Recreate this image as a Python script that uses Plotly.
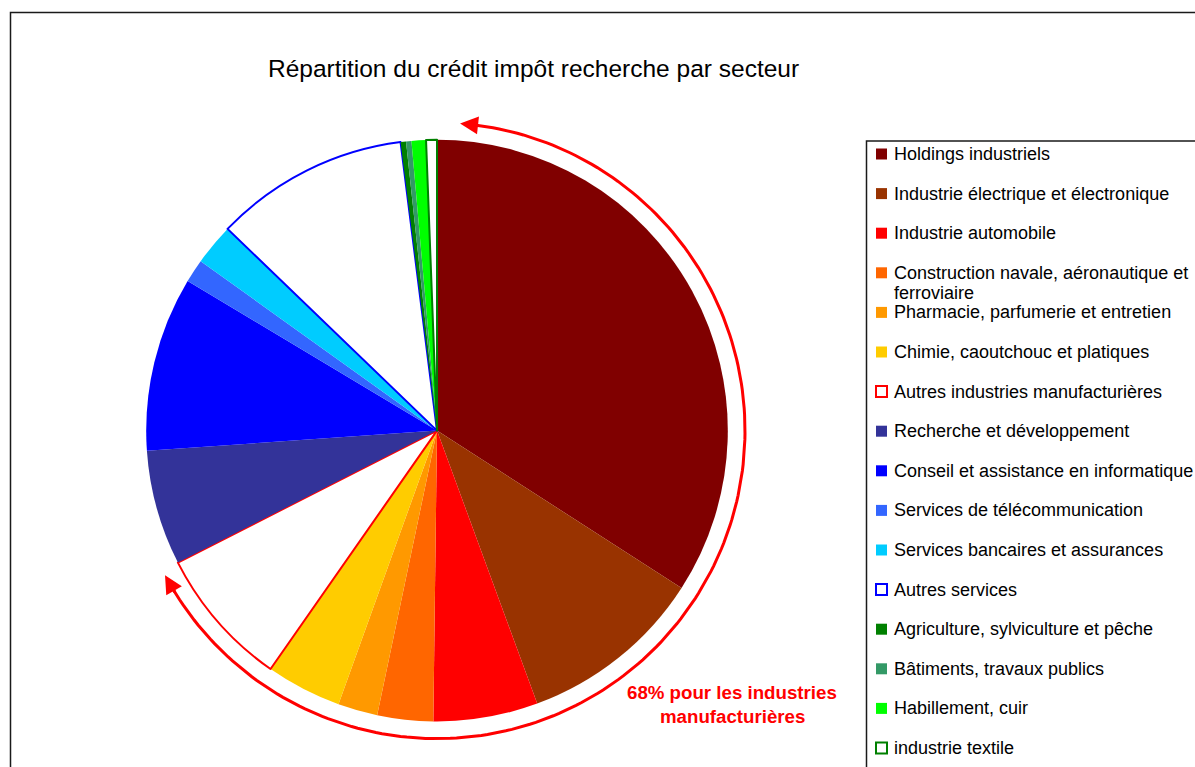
import math
import textwrap
import plotly.graph_objects as go

# --- data (share of the tax credit, %) ---
sectors = [
    "Holdings industriels",
    "Industrie électrique et électronique",
    "Industrie automobile",
    "Construction navale, aéronautique et ferroviaire",
    "Pharmacie, parfumerie et entretien",
    "Chimie, caoutchouc et platiques",
    "Autres industries manufacturières",
    "Recherche et développement",
    "Conseil et assistance en informatique",
    "Services de télécommunication",
    "Services bancaires et assurances",
    "Autres services",
    "Agriculture, sylviculture et pêche",
    "Bâtiments, travaux publics",
    "Habillement, cuir",
    "industrie textile",
]
shares = [34.1, 10.3, 5.8, 3.1, 2.2, 4.2, 7.8, 6.4, 9.7, 1.3, 2.3, 10.8, 0.3, 0.3, 0.8, 0.6]
fill_colors = ["#800000", "#993300", "#FF0000", "#FF6600", "#FF9900", "#FFCC00", "#FFFFFF",
               "#333399", "#0000FF", "#3366FF", "#00CCFF", "#FFFFFF",
               "#008000", "#339966", "#00FF00", "#FFFFFF"]
edge_colors = ["#800000", "#993300", "#FF0000", "#FF6600", "#FF9900", "#FFCC00", "#FF0000",
               "#333399", "#0000FF", "#3366FF", "#00CCFF", "#0000FF",
               "#008000", "#339966", "#00FF00", "#008000"]
title_text = "Répartition du crédit impôt recherche par secteur"
note_lines = ["68% pour les industries", "manufacturières"]

W, H = 1195, 767
FONT = "Arial, Liberation Sans, sans-serif"

# pie geometry (window pixels)
cx, cy, r = 437, 430.6, 290.8

fig = go.Figure()

fig.add_trace(go.Pie(
    labels=sectors,
    values=shares,
    sort=False,
    direction="clockwise",
    rotation=0,
    textinfo="none",
    showlegend=False,
    marker=dict(
        colors=fill_colors,
        line=dict(color=edge_colors,
                  width=[2 if c == "#FFFFFF" else 0 for c in fill_colors]),
    ),
    domain=dict(x=[(cx - r) / W, (cx + r) / W],
                y=[1 - (cy + r) / H, 1 - (cy - r) / H]),
))

# --- curved arrow around the manufacturing slices ---
r_arc = 308
def arc_pt(deg, rad=r_arc):
    a = math.radians(deg)
    return cx + rad * math.sin(a), cy - rad * math.cos(a)

arc_deg = [7 + i * (239 - 7) / 200 for i in range(201)]
pts = [arc_pt(d) for d in arc_deg]
fig.add_trace(go.Scatter(
    x=[p[0] for p in pts], y=[p[1] for p in pts],
    mode="lines", line=dict(color="#FF0000", width=3),
    hoverinfo="skip", showlegend=False,
))

annotations = []
for tip, back in [(4.3, 8.0), (242.0, 238.0)]:
    tx, ty = arc_pt(tip)
    bx, by = arc_pt(back)
    annotations.append(dict(
        x=tx, y=ty, ax=bx, ay=by, xref="x", yref="y", axref="x", ayref="y",
        text="", showarrow=True, arrowhead=2, arrowsize=1.2, arrowwidth=3,
        arrowcolor="#FF0000",
    ))

# --- title and note ---
annotations.append(dict(x=533, y=68, xref="x", yref="y", text=title_text,
                        showarrow=False, font=dict(family=FONT, size=24.5, color="#000000")))
for i, line in enumerate(note_lines):
    annotations.append(dict(x=732, y=692.5 + 24 * i, xref="x", yref="y",
                            text="<b>" + line + "</b>", showarrow=False,
                            font=dict(family=FONT, size=18.7, color="#FF0000")))

# --- frame and legend box ---
shapes = [
    dict(type="rect", xref="x", yref="y", x0=10.5, y0=12.5, x1=1300, y1=900,
         line=dict(color="#1a1a1a", width=1.5)),
    dict(type="rect", xref="x", yref="y", x0=866.5, y0=141, x1=1300, y1=900,
         line=dict(color="#1a1a1a", width=1.5)),
]

leg_y0, leg_step = 154, 39.6
for i, (name, fc, ec) in enumerate(zip(sectors, fill_colors, edge_colors)):
    y = leg_y0 + i * leg_step
    white = fc == "#FFFFFF"
    shapes.append(dict(type="rect", xref="x", yref="y",
                       x0=876, x1=887, y0=y - 5.5, y1=y + 5.5,
                       fillcolor=fc,
                       line=dict(color=ec, width=2 if white else 0)))
    for k, part in enumerate(textwrap.wrap(name, 37)):
        annotations.append(dict(x=892, y=y + 20.5 * k, xref="x", yref="y",
                                xanchor="left", yanchor="middle", text=part,
                                showarrow=False,
                                font=dict(family=FONT, size=18, color="#000000")))

fig.update_layout(
    width=W, height=H,
    margin=dict(l=0, r=0, t=0, b=0),
    paper_bgcolor="white", plot_bgcolor="rgba(0,0,0,0)",
    xaxis=dict(range=[0, W], visible=False, fixedrange=True),
    yaxis=dict(range=[H, 0], visible=False, fixedrange=True),
    shapes=shapes,
    annotations=annotations,
    font=dict(family=FONT),
)

# drop the default page margin so the figure fills the window exactly
fig.write_html("out.html",
               config={"displayModeBar": False},
               post_script="document.body.style.margin='0';document.body.style.overflow='hidden';")
